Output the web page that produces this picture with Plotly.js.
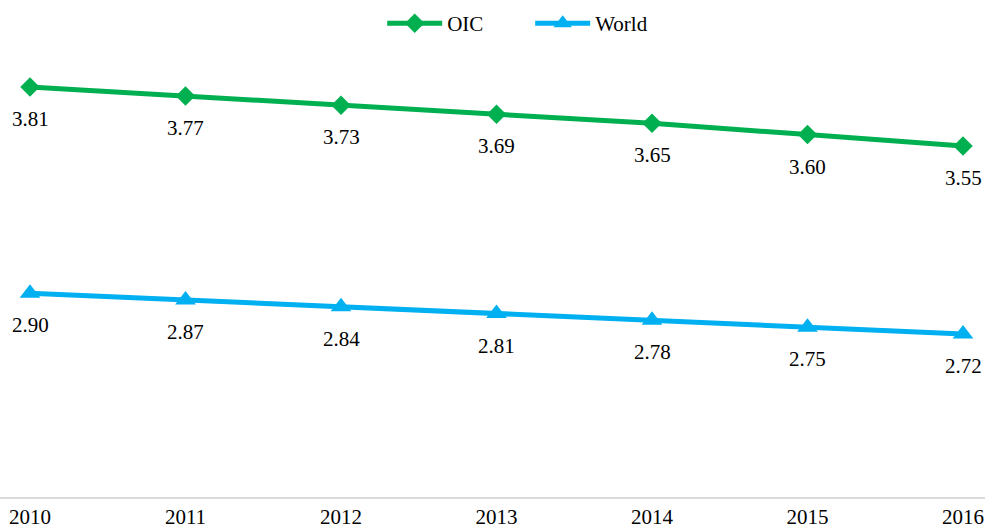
<!DOCTYPE html>
<html>
<head>
<meta charset="utf-8">
<script src="https://cdn.plot.ly/plotly-3.0.1.min.js"></script>
<style>html,body{margin:0;padding:0;background:#fff;}#chart{width:985px;height:532px;}</style>
</head>
<body>
<div id="chart"></div>
<script>
var years = [2010, 2011, 2012, 2013, 2014, 2015, 2016];
var oicValues = [3.81, 3.77, 3.73, 3.69, 3.65, 3.60, 3.55];
var worldValues = [2.90, 2.87, 2.84, 2.81, 2.78, 2.75, 2.72];
var seriesNames = ['OIC', 'World'];
var tickLabels = ['2010', '2011', '2012', '2013', '2014', '2015', '2016'];

var font = 'Liberation Serif, Times New Roman, serif';
var traces = [
  {
    x: years, y: oicValues, name: seriesNames[0], type: 'scatter', mode: 'lines+markers',
    line: {color: '#00B050', width: 5},
    marker: {symbol: 'diamond', size: 15, color: '#00B050'},
    cliponaxis: false, hoverinfo: 'x+y'
  },
  {
    x: years, y: worldValues, name: seriesNames[1], type: 'scatter', mode: 'lines+markers',
    line: {color: '#00B0F0', width: 5},
    marker: {symbol: 'triangle-up', size: 18, color: '#00B0F0'},
    cliponaxis: false, hoverinfo: 'x+y'
  }
];

var annotations = [];
[oicValues, worldValues].forEach(function(vals){
  vals.forEach(function(v, i){
    annotations.push({x: years[i], y: v, xref: 'x', yref: 'y', text: v.toFixed(2),
      showarrow: false, xanchor: 'center', yanchor: 'top', yshift: -18,
      font: {family: font, size: 21, color: '#000'}});
  });
});

var layout = {
  width: 985, height: 532,
  margin: {l: 0, r: 0, t: 44, b: 35, pad: 0},
  paper_bgcolor: '#fff', plot_bgcolor: '#fff',
  font: {family: font, size: 21, color: '#000'},
  showlegend: true,
  legend: {orientation: 'h', x: 0.388, xanchor: 'left', y: 1.0, yanchor: 'bottom',
           font: {family: font, size: 21, color: '#000'}, itemwidth: 55,
           entrywidth: 78, entrywidthmode: 'pixels', bgcolor: 'rgba(0,0,0,0)'},
  annotations: annotations,
  xaxis: {
    type: 'linear', range: [2009.807, 2016.1415],
    tickvals: years, ticktext: tickLabels,
    showgrid: false, zeroline: false,
    showline: true, linecolor: '#d9d9d9', linewidth: 2,
    ticks: '', tickfont: {family: font, size: 21, color: '#000'}
  },
  yaxis: {
    range: [2, 4], visible: false, showgrid: false, zeroline: false
  }
};

Plotly.newPlot('chart', traces, layout, {displayModeBar: false, staticPlot: true});
</script>
</body>
</html>
